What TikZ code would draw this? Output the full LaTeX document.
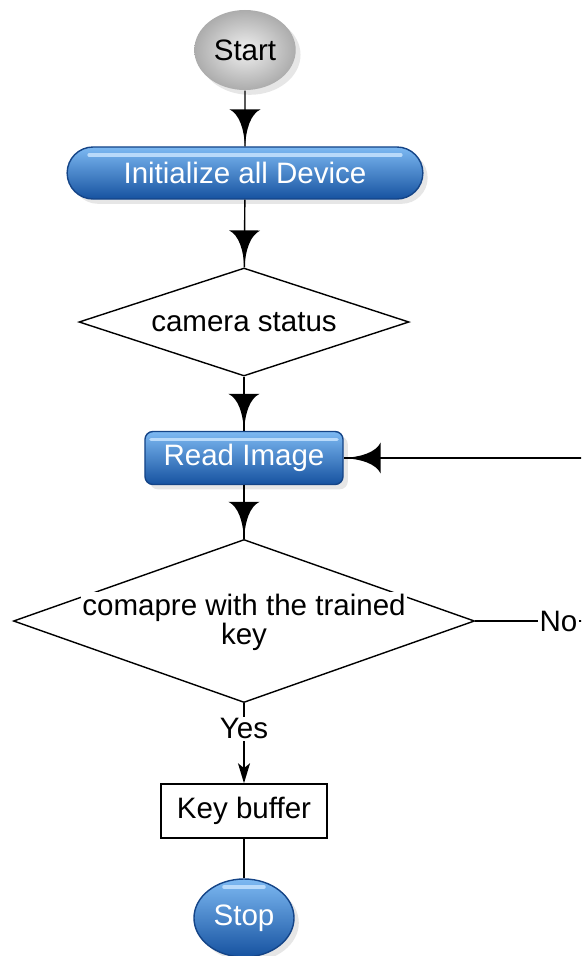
\documentclass[tikz,border=0pt]{standalone}
\usepackage{fontspec}
\setmainfont{Liberation Sans}
\usetikzlibrary{shapes.geometric,shapes.misc,shadows,arrows.meta}

\definecolor{glosstop}{RGB}{125,185,242}
\definecolor{glossmid}{RGB}{62,132,212}
\definecolor{glossbot}{RGB}{22,82,160}
\definecolor{glossedge}{RGB}{20,68,135}
\definecolor{glossshine}{RGB}{185,218,250}

% concave arrow head for the main flow
\pgfarrowsdeclare{flare}{flare}
{\pgfarrowsleftextend{-0.925cm}\pgfarrowsrightextend{0pt}}
{
  \pgfpathmoveto{\pgfpoint{0pt}{0pt}}
  \pgfpathcurveto{\pgfpoint{-0.45cm}{0.03cm}}{\pgfpoint{-0.8cm}{0.14cm}}{\pgfpoint{-0.925cm}{0.39cm}}
  \pgfpathlineto{\pgfpoint{-0.925cm}{-0.39cm}}
  \pgfpathcurveto{\pgfpoint{-0.8cm}{-0.14cm}}{\pgfpoint{-0.45cm}{-0.03cm}}{\pgfpoint{0pt}{0pt}}
  \pgfusepathqfill
}

\tikzset{
  softshadow/.style={drop shadow={opacity=0.2,shadow xshift=0.12cm,shadow yshift=-0.12cm}},
  glossy/.style={draw=glossedge,top color=glosstop,middle color=glossmid,bottom color=glossbot,
    text=white,softshadow},
  shine/.style={path picture={
    \draw[glossshine,line width=2.5pt,line cap=round]
      ([xshift=#1,yshift=-0.2cm]path picture bounding box.north west) --
      ([xshift=-#1,yshift=-0.2cm]path picture bounding box.north east);}},
  startball/.style={ellipse,inner color=gray!12,outer color=gray!65,minimum width=2.5cm,minimum height=2cm,softshadow},
  decision/.style={diamond,draw,fill=white,aspect=3,inner sep=0pt},
  box/.style={rectangle,draw,fill=white,minimum width=4.15cm,minimum height=1.35cm},
  lbl/.style={fill=white,inner sep=1pt},
}

\begin{document}
\begin{tikzpicture}[x=0.025cm,y=-0.025cm,line width=1pt,font=\fontsize{21}{26}\selectfont]
\useasboundingbox (0,0) rectangle (581,956);
\clip (0,0) rectangle (581,956);

\node[startball] (start) at (245,50) {Start};
\node[glossy,rounded rectangle,minimum width=9.125cm,minimum height=1.3cm,shine=0.55cm] (init) at (245,173) {Initialize all Device};
\node[decision,minimum width=8.25cm,minimum height=2.7cm] (cam) at (244,322) {camera status};
\node[glossy,rounded corners=0.2cm,minimum width=4.95cm,minimum height=1.325cm,shine=0.15cm] (read) at (244,458) {Read Image};
\node[decision,minimum width=11.525cm,minimum height=4.075cm,
  label={[lbl,yshift=0.34cm]center:comapre with the trained},
  label={[yshift=-0.4cm]center:key}] (cmp) at (244,621) {};
\node[box] (buf) at (244,811) {Key buffer};
\node[glossy,ellipse,minimum width=2.5cm,minimum height=1.95cm,shine=0.75cm] (stop) at (244,918) {Stop};

\coordinate (back) at (620,621);

\draw[-flare] (start) -- (init);
\draw[-flare] (init) -- (cam);
\draw[-flare] (cam) -- (read);
\draw[-flare] (read) -- (cmp);
\draw[-{Stealth[length=0.5cm,width=0.3cm,inset=0.12cm]}] (cmp) -- node[lbl,pos=0.32] {Yes} (buf);
\draw (buf) -- (stop);
\draw[-flare] (cmp.east) -- node[lbl,pos=0.575] {No} (back) |- (read.east);
\end{tikzpicture}
\end{document}
